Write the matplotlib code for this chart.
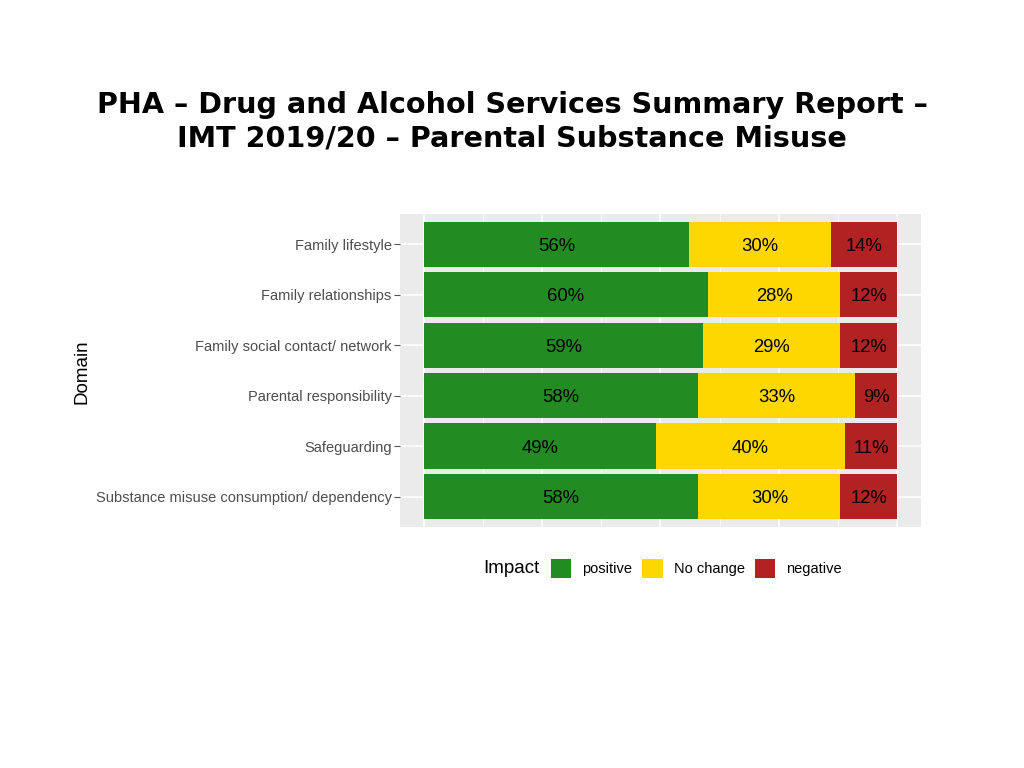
import numpy as np
import matplotlib.pyplot as plt
from matplotlib.patches import Patch

domains = ["Family lifestyle", "Family relationships", "Family social contact/ network",
           "Parental responsibility", "Safeguarding",
           "Substance misuse consumption/ dependency"]
positive = [56, 60, 59, 58, 49, 58]
no_change = [30, 28, 29, 33, 40, 30]
negative = [14, 12, 12, 9, 11, 12]

impacts = ["positive", "No change", "negative"]
colours = ["#228B22", "#FFD700", "#B22222"]

fig = plt.figure(figsize=(10.24, 7.68), dpi=100)
fig.text(0.5, 0.842, "PHA \u2013 Drug and Alcohol Services Summary Report \u2013\n"
         "IMT 2019/20 \u2013 Parental Substance Misuse",
         ha="center", va="center", fontsize=20.6, fontweight="bold",
         family="DejaVu Sans", linespacing=1.25)

ax = fig.add_axes([0.3906, 0.3138, 0.5088, 0.4076])
ax.set_facecolor("#EBEBEB")
y = np.arange(len(domains))
left = np.zeros(len(domains))
for vals, name, col in zip([positive, no_change, negative], impacts, colours):
    vals = np.array(vals)
    ax.barh(y, vals / 100, left=left / 100, height=0.9, color=col, label=name, zorder=2)
    for yi, l, v in zip(y, left, vals):
        ax.text((l + v / 2) / 100, yi + 0.04, f"{v}%", ha="center", va="center",
                fontsize=13.3, family="Liberation Sans", color="black", zorder=3)
    left += vals

ax.set_xlim(-0.05, 1.05)
ax.set_ylim(len(domains) - 0.4, -0.6)
ax.set_xticks([0, 0.25, 0.5, 0.75, 1.0])
ax.set_xticks([0.125, 0.375, 0.625, 0.875], minor=True)
ax.set_xticklabels([])
ax.grid(True, axis="x", which="major", color="white", linewidth=1.1, zorder=0)
ax.grid(True, axis="x", which="minor", color="white", linewidth=0.5, zorder=0)
ax.grid(True, axis="y", color="white", linewidth=1.1, zorder=0)
ax.set_axisbelow(True)
ax.tick_params(axis="x", which="both", length=0)
ax.set_yticks(y)
ax.set_yticklabels(domains, fontsize=10.5, family="Liberation Sans", color="#4D4D4D")
ax.tick_params(axis="y", length=4, color="#555555", pad=2)
for s in ax.spines.values():
    s.set_visible(False)

fig.text(0.08, 0.516, "Domain", rotation=90, ha="center", va="center",
         fontsize=13.5, family="Liberation Sans")

fig.text(0.4717, 0.26, "Impact", ha="left", va="center", fontsize=13.5,
         family="Liberation Sans")
handles = [Patch(facecolor=c, edgecolor="none", label=n) for n, c in zip(impacts, colours)]
fig.legend(handles=handles, loc="center left", bbox_to_anchor=(0.525, 0.26), ncol=3,
           frameon=False, handlelength=1.4, handleheight=1.6, handletextpad=0.75,
           columnspacing=0.7, prop={"family": "Liberation Sans", "size": 10.5})

fig.savefig("out.png", dpi=100)
